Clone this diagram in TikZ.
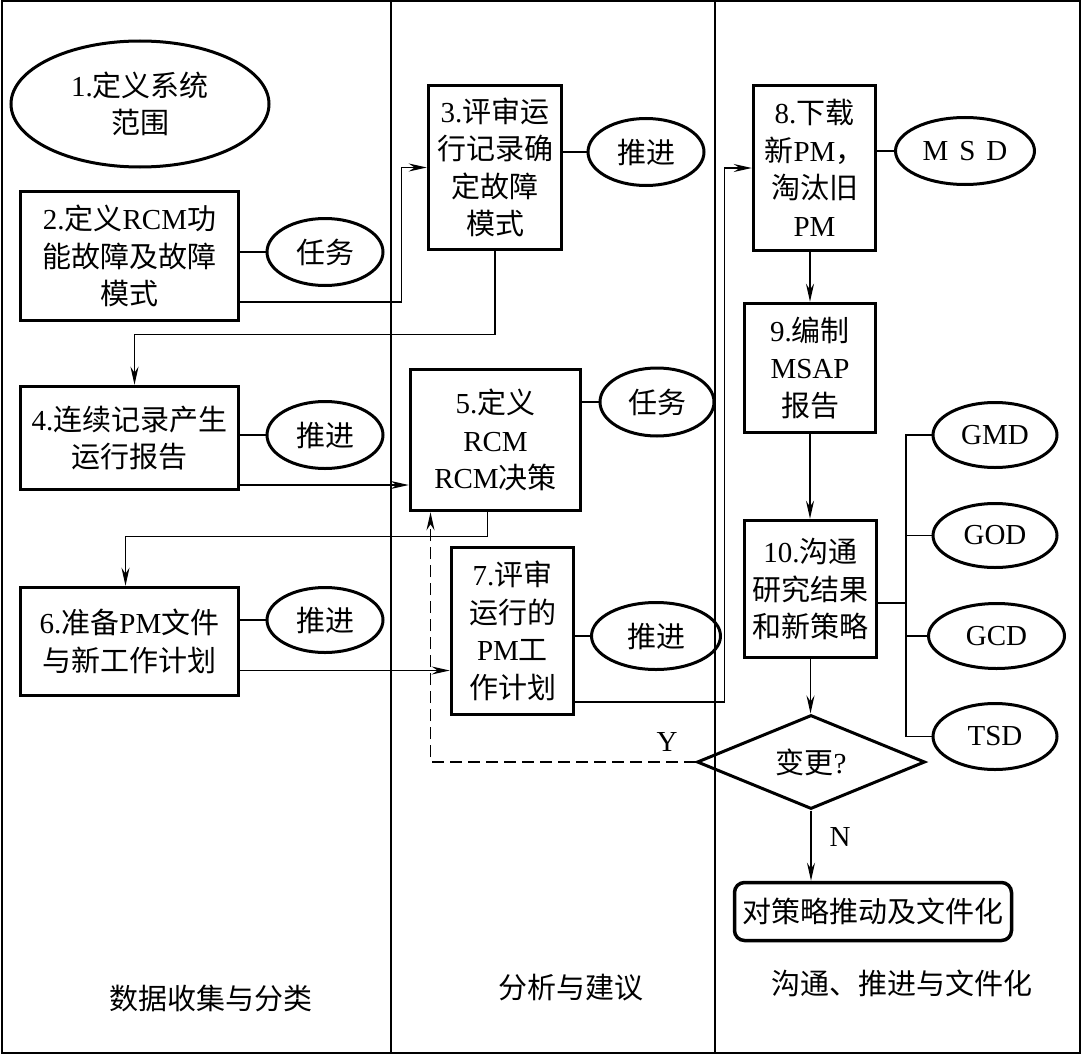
\documentclass[tikz,border=0pt]{standalone}
\usepackage{fontspec}
\setmainfont{Noto Sans CJK SC}
\newfontfamily\serifen{Liberation Serif}
\newcommand{\en}[1]{{\serifen #1}}
\usepackage{tikz}
\usetikzlibrary{positioning, arrows.meta, shapes.geometric}

\begin{document}
\begin{tikzpicture}[
    x=1pt, y=-1pt,
    font=\fontsize{29}{37.5}\selectfont,
    stepbox/.style={draw, line width=3.5pt, align=center, inner sep=2pt},
    oval/.style={draw, ellipse, line width=3pt, inner sep=0pt, align=center, minimum width=116pt, minimum height=67pt},
    link/.style={line width=1.2pt},
    flow/.style={-{Stealth[length=18pt, width=8pt, inset=6pt]}, line width=1.2pt},
    lane/.style={line width=1.5pt},
]
    \useasboundingbox (0,0) rectangle (1081,1054);

    % Frame and lanes
    \draw[line width=2pt] (1.5,1.5) rectangle (1079.5,1052.5);
    \draw[lane] (391,1.5) -- (391,1052.5);
    \draw[lane] (715,1.5) -- (715,1052.5);

    \node (lane1) at (211,998) {数据收集与分类};
    \node (lane2) at (571,988) {分析与建议};
    \node (lane3) at (902,983) {沟通、推进与文件化};

    % Data collection
    \node[oval, minimum width=258pt, minimum height=126pt] (scope) at (140,104) {\en{1.}定义系统\\范围};
    \node[stepbox, minimum width=218pt, minimum height=129pt] (b2) at (129.5,256) {\en{2.}定义\en{RCM}功\\能故障及故障\\模式};
    \node[oval] (task2) at (325,252) {任务};
    \node[stepbox, minimum width=218pt, minimum height=103pt] (b4) at (129.5,438) {\en{4.}连续记录产生\\运行报告};
    \node[oval] (push4) at (325,435) {推进};
    \node[stepbox, minimum width=218pt, minimum height=108pt] (b6) at (129.5,641.5) {\en{6.}准备\en{PM}文件\\与新工作计划};
    \node[oval, minimum height=65pt] (push6) at (325,620) {推进};

    % Analysis
    \node[stepbox, minimum width=133pt, minimum height=164pt] (b3) at (495,167.5) {\en{3.}评审运\\行记录确\\定故障\\模式};
    \node[oval] (push3) at (646,152) {推进};
    \node[stepbox, minimum width=170pt, minimum height=141pt] (b5) at (495.5,440) {\en{5.}定义\\\en{RCM}\\\en{RCM}决策};
    \node[oval, minimum width=114pt, minimum height=68pt] (task5) at (657,402) {任务};
    \node[stepbox, minimum width=122pt, minimum height=167pt] (b7) at (512.5,631) {\en{7.}评审\\运行的\\\en{PM}工\\作计划};
    \node[oval, minimum width=129pt] (push7) at (656,636) {推进};

    % Communication
    \node[stepbox, minimum width=122pt, minimum height=165pt] (b8) at (814.5,168) {\en{8.}下载\\新\en{PM}，\\淘汰旧\\\en{PM}};
    \node[oval, minimum width=139pt] (msd) at (965,151) {\en{M\hspace{11pt}S\hspace{11pt}D}};
    \node[stepbox, minimum width=131pt, minimum height=129pt] (b9) at (810,368) {\en{9.}编制\\\en{MSAP}\\报告};
    \node[stepbox, minimum width=132pt, minimum height=137pt] (b10) at (810.5,589) {\en{10.}沟通\\研究结果\\和新策略};
    \node[oval, minimum width=124pt, minimum height=65pt] (gmd) at (995,435) {\en{GMD}};
    \node[oval, minimum width=124pt, minimum height=64pt] (god) at (995,535.5) {\en{GOD}};
    \node[oval, minimum width=136pt, minimum height=65pt] (gcd) at (996.5,636) {\en{GCD}};
    \node[oval, minimum width=124pt, minimum height=66pt] (tsd) at (995,736.5) {\en{TSD}};
    \node[draw, diamond, line width=3pt, aspect=2.4, inner sep=0pt, minimum width=228pt, minimum height=94pt] (chg) at (811,762) {变更\en{?}};
    \node[stepbox, rounded corners=10pt, minimum width=277pt, minimum height=58pt] (final) at (873,911.5) {对策略推动及文件化};
    \node (ylab) at (667,742) {\en{Y}};
    \node (nlab) at (840,837) {\en{N}};
    \coordinate (bus) at (906,603);

    % Side links
    \draw[link] (task2.west -| b2.east) -- (task2.west);
    \draw[link] (push4.west -| b4.east) -- (push4.west);
    \draw[link] (push6.west -| b6.east) -- (push6.west);
    \draw[link] (push3.west -| b3.east) -- (push3.west);
    \draw[link] (task5.west -| b5.east) -- (task5.west);
    \draw[link] (push7.west -| b7.east) -- (push7.west);
    \draw[link] (msd.west -| b8.east) -- (msd.west);
    \draw[link] (bus -| b10.east) -- (bus);
    \draw[link] (gmd.west) -- (gmd.west -| bus) -- (tsd.west -| bus) -- (tsd.west);
    \draw[link] (god.west -| bus) -- (god.west);
    \draw[link] (gcd.west -| bus) -- (gcd.west);

    % Flow
    \draw[flow] ([yshift=-46pt]b2.east) -- ++(161,0) |- (b3.west);
    \draw[flow] (b3.south) -- ++(0,83) -| ([xshift=5pt]b4.north);
    \draw[flow] ([yshift=-47pt]b4.east) -- ([yshift=-47pt]b4.east -| b5.west);
    \draw[flow] ([xshift=-8pt]b5.south) -- ++(0,24) -| ([xshift=-4pt]b6.north);
    \draw[flow] ([yshift=-29pt]b6.east) -- ([yshift=-29pt]b6.east -| b7.west);
    \draw[flow] ([yshift=-71pt]b7.east) -- ++(149,0) |- (b8.west);
    \draw[flow, line width=2pt] (b8.south -| b9.north) -- (b9.north);
    \draw[flow, line width=2pt] (b9.south) -- (b9.south |- b10.north);
    \draw[flow] (b10.south) -- (b10.south |- chg.north);
    \draw[flow] (chg.south) -- (chg.south |- final.north);
    \draw[flow, dash pattern=on 12pt off 6pt] (chg.west) -| ([xshift=-65pt]b5.south);

\end{tikzpicture}
\end{document}
